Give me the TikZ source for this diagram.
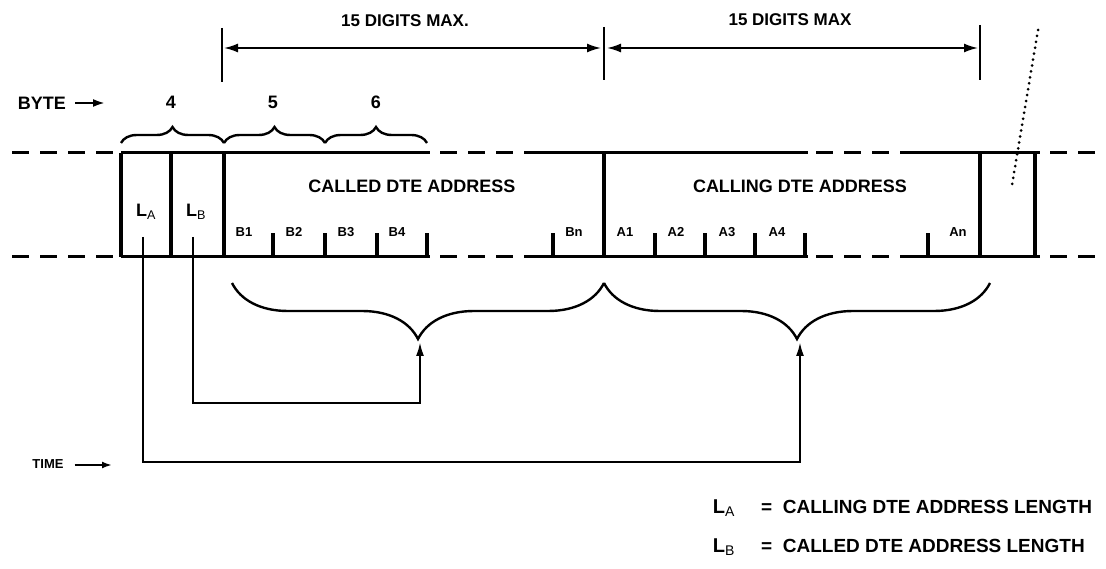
\documentclass[tikz,border=0pt]{standalone}
\usepackage{fontspec}
\setmainfont{Liberation Sans}
\usepackage{tikz}
\usetikzlibrary{
  arrows.meta,
  positioning,
  decorations.pathreplacing
}
\tikzset{
    lbl/.style={font=\bfseries\fontsize{18}{20}\selectfont, inner sep=1pt},
    small/.style={font=\bfseries\fontsize{13}{15}\selectfont, inner sep=1pt},
    legend/.style={font=\bfseries\fontsize{19}{21}\selectfont, inner sep=1pt, anchor=west},
    field/.style={line width=4.6pt},
    rail/.style={line width=3pt},
    railgap/.style={line width=3pt, dash pattern=on 17pt off 11pt},
    tick/.style={line width=3.2pt},
    dimbar/.style={line width=2.8pt},
    dimline/.style={line width=1.8pt, {Latex[length=14pt,width=9pt]}-{Latex[length=14pt,width=9pt]}},
    feed/.style={line width=2.2pt, -{Latex[length=14pt,width=8pt]}},
    bracetop/.style={line width=2.4pt, decorate, decoration={brace, amplitude=16pt}},
    bracelow/.style={line width=2.4pt, decorate, decoration={brace, mirror, amplitude=56pt}}
}

\begin{document}
\begin{tikzpicture}[x=1pt, y=-1pt]
\useasboundingbox (0,0) rectangle (1106,569);

% dimension bars on top
\coordinate (barL1) at (222,28);  \coordinate (barL2) at (222,82);
\coordinate (barM1) at (604,27);  \coordinate (barM2) at (604,80);
\coordinate (barR1) at (980,25);  \coordinate (barR2) at (980,80);
\draw[dimbar] (barL1) -- (barL2);
\draw[dimbar] (barM1) -- (barM2);
\draw[dimbar] (barR1) -- (barR2);
\coordinate (dimA) at (224,48); \coordinate (dimB) at (601,48);
\coordinate (dimC) at (607,48); \coordinate (dimD) at (978,48);
\draw[dimline] (dimA) -- (dimB);
\draw[dimline] (dimC) -- (dimD);
\node[lbl, font=\bfseries\fontsize{17}{19}\selectfont] (maxB) at (405,21) {15 DIGITS MAX.};
\node[lbl, font=\bfseries\fontsize{17}{19}\selectfont] (maxA) at (790,20) {15 DIGITS MAX};

% byte counter
\node[lbl] (byte) at (42,103) {BYTE};
\coordinate (byteEnd) at (105,103);
\draw[line width=2.2pt, -{Latex[length=12pt,width=8pt]}] (byte.east) ++(8,0) -- (byteEnd);
\node[lbl] (b4) at (171,102) {4};
\node[lbl] (b5) at (273,102) {5};
\node[lbl] (b6) at (376,102) {6};
\draw[bracetop] (121,143) -- (224,143);
\draw[bracetop] (224,143) -- (325,143);
\draw[bracetop] (325,143) -- (427,143);

% the two rails
\foreach \y in {153,257} {
    \draw[railgap] (12,\y) -- (121,\y);
    \draw[rail] (121,\y) -- (430,\y);
    \draw[railgap] (440,\y) -- (533,\y);
    \draw[rail] (533,\y) -- (808,\y);
    \draw[railgap] (816,\y) -- (908,\y);
    \draw[rail] (908,\y) -- (1040,\y);
    \draw[railgap] (1050,\y) -- (1100,\y);
}

% field separators
\foreach \x in {121,171,224,604,980,1035}
    \draw[field] (\x,153) -- (\x,257);

% digit ticks
\foreach \x in {273,325,377,427,553,655,705,755,805,928}
    \draw[tick] (\x,257) -- (\x,233);

\node[lbl] (called) at (412,186) {CALLED DTE ADDRESS};
\node[lbl] (calling) at (800,186) {CALLING DTE ADDRESS};
\node[lbl] (la) at (146,212) {L$_{\mathrm{A}}$};
\node[lbl] (lb) at (196,212) {L$_{\mathrm{B}}$};

\node[small] (B1) at (244,232) {B1};
\node[small] (B2) at (294,232) {B2};
\node[small] (B3) at (346,232) {B3};
\node[small] (B4) at (397,232) {B4};
\node[small] (Bn) at (574,232) {Bn};
\node[small] (A1) at (625,232) {A1};
\node[small] (A2) at (676,232) {A2};
\node[small] (A3) at (727,232) {A3};
\node[small] (A4) at (777,232) {A4};
\node[small] (An) at (958,232) {An};

% continuation mark
\coordinate (dotTop) at (1038,30);
\coordinate (dotEnd) at (1012,185);
\draw[line width=3pt, dash pattern=on 0pt off 6pt, line cap=round] (dotTop) -- (dotEnd);

% lower braces
\draw[bracelow] (232,283) -- (604,283);
\draw[bracelow] (604,283) -- (990,283);
\coordinate (tipB) at (420,342);
\coordinate (tipA) at (800,342);

% length fields point at the address they count
\draw[feed] (193,237) -- (193,403) -- (420,403) -- (tipB);
\draw[feed] (143,237) -- (143,462) -- (800,462) -- (tipA);

\node[lbl, font=\bfseries\fontsize{13}{15}\selectfont] (time) at (48,464) {TIME};
\coordinate (timeEnd) at (112,465);
\draw[line width=2pt, -{Latex[length=10pt,width=7pt]}] (time.east) ++(10,1) -- (timeEnd);

% legend
\node[lbl, font=\bfseries\fontsize{20}{22}\selectfont] (keyA) at (724,508) {L$_{\mathrm{A}}$};
\node[legend] (textA) at (760,507) {=\ \ CALLING DTE ADDRESS LENGTH};
\node[lbl, font=\bfseries\fontsize{20}{22}\selectfont] (keyB) at (724,547) {L$_{\mathrm{B}}$};
\node[legend] (textB) at (760,546) {=\ \ CALLED DTE ADDRESS LENGTH};
\end{tikzpicture}
\end{document}
